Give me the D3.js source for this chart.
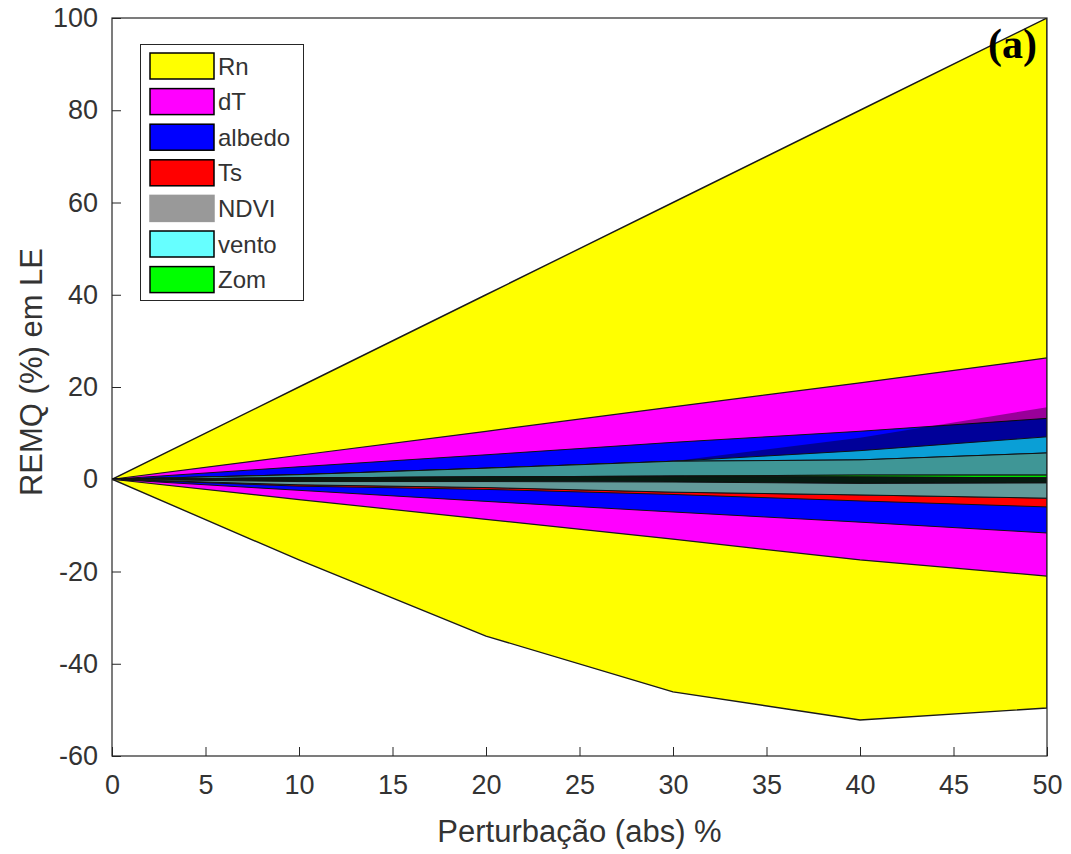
<!DOCTYPE html>
<html lang="en">
<head>
<meta charset="utf-8">
<title>REMQ LE</title>
<script src="https://d3js.org/d3.v7.min.js"></script>
<style>
  body { margin: 0; background: #fff; }
  text { font-family: "Liberation Sans", Arial, Helvetica, sans-serif; }
</style>
</head>
<body>
<script>
// perturbation levels (x)
var xs = [0, 10, 20, 30, 40, 50];

// band edges (REMQ %, one value per x)
var rnHi = [0, 20, 40, 60, 80, 100];
var rnLo = [0, -17.5, -34, -46.1, -52.2, -49.6];
var dtHi = [0, 5.2, 10.4, 15.7, 20.9, 26.3];
var dtLo = [0, -4.4, -8.7, -13.0, -17.5, -21.0];
var albHi = [0, 2.7, 5.3, 8.0, 10.4, 13.2];
var albLo = [0, -2.4, -4.8, -7.1, -9.3, -11.65];
var ndviHi = [0, 1.0, 2.4, 3.9, 9.0, 15.6];
var ventoHi = [0, 1.0, 2.4, 3.9, 6.2, 9.2];
var tealHi = [0, 1.0, 2.4, 3.9, 4.2, 5.7];
var zomHi = [0, 0.3, 0.5, 0.7, 0.9, 0.9];
var zomLo = [0, 0.3, 0.5, 0.6, 0.5, 0.3];
var coreLo = [0, -0.5, -0.5, -0.6, -0.9, -0.8];
var grayLo = [0, -1.2, -1.8, -2.8, -3.4, -4.1];
var tsLo = [0, -1.5, -2.2, -3.3, -4.7, -6.0];

var xTicks = [0, 5, 10, 15, 20, 25, 30, 35, 40, 45, 50];
var yTicks = [-60, -40, -20, 0, 20, 40, 60, 80, 100];

var legendNames = ["Rn", "dT", "albedo", "Ts", "NDVI", "vento", "Zom"];
var legendColors = ["#ffff00", "#ff00ff", "#0000ff", "#ff0000", "#999999", "#66ffff", "#00ff00"];

var width = 1071, height = 854;
var svg = d3.select("body").append("svg")
    .attr("width", width)
    .attr("height", height);

var x = d3.scaleLinear().domain([0, 50]).range([112, 1047]);
var y = d3.scaleLinear().domain([-60, 100]).range([756, 18]);

// layers in drawing order, later ones on top
var layers = [
    {hi: rnHi, lo: rnLo, fill: "#ffff00", stroke: "#1a1a1a", sw: 1.4},
    {hi: dtHi, lo: dtLo, fill: "#ff00ff", stroke: "#1a1a1a", sw: 1.2},
    {hi: albHi, lo: albLo, fill: "#0000ff", stroke: "#111"},
    {hi: grayLo, lo: tsLo, fill: "#ff0000", stroke: "#111"},
    {hi: ndviHi, lo: ventoHi, fill: "#000", opacity: 0.4, stroke: "none"},
    {hi: ventoHi, lo: tealHi, fill: "#0a9fd6", stroke: "#111"},
    {hi: tealHi, lo: zomHi, fill: "#3f9696", stroke: "#111"},
    {hi: zomHi, lo: zomLo, fill: "#00e000", stroke: "#111"},
    {hi: zomLo, lo: coreLo, fill: "#061a10", stroke: "#111"},
    {hi: coreLo, lo: grayLo, fill: "#629a9a", stroke: "#111"}
];

var area = function(l) {
    return d3.area()
        .x(function(d, i) { return x(xs[i]); })
        .y0(function(d, i) { return y(l.lo[i]); })
        .y1(function(d) { return y(d); })(l.hi);
};

svg.append("clipPath").attr("id", "plotclip")
    .append("rect").attr("x", 112).attr("y", 18).attr("width", 935).attr("height", 738);

var g = svg.append("g").attr("clip-path", "url(#plotclip)");
layers.forEach(function(l) {
    g.append("path")
        .attr("d", area(l))
        .attr("fill", l.fill)
        .attr("fill-opacity", l.opacity || 1)
        .attr("stroke", l.stroke)
        .attr("stroke-width", l.sw || 1)
        .attr("stroke-linejoin", "round");
});

// axes (MATLAB style, ticks inside)
var axisColor = "#262626";
var xAxis = svg.append("g")
    .attr("transform", "translate(0,756)")
    .call(d3.axisBottom(x).tickValues(xTicks).tickSize(-9).tickPadding(19).tickFormat(String));
var yAxis = svg.append("g")
    .attr("transform", "translate(112,0)")
    .call(d3.axisLeft(y).tickValues(yTicks).tickSize(-9).tickPadding(14).tickFormat(String));

[xAxis, yAxis].forEach(function(a) {
    a.select(".domain").remove();
    a.selectAll(".tick line").attr("stroke", axisColor);
    a.selectAll(".tick text")
        .attr("fill", "#333")
        .style("font-size", "27px");
});

// box
svg.append("rect")
    .attr("x", 112).attr("y", 18)
    .attr("width", 935).attr("height", 738)
    .attr("fill", "none")
    .attr("stroke", axisColor)
    .attr("stroke-width", 1.2);

svg.append("text")
    .attr("x", 579.5).attr("y", 842)
    .attr("text-anchor", "middle")
    .attr("fill", "#333")
    .style("font-size", "31px")
    .text("Perturbação (abs) %");

svg.append("text")
    .attr("transform", "translate(42,372) rotate(-90)")
    .attr("text-anchor", "middle")
    .attr("fill", "#333")
    .style("font-size", "31px")
    .text("REMQ (%) em LE");

// legend
var leg = svg.append("g");
leg.append("rect")
    .attr("x", 140.5).attr("y", 44.5)
    .attr("width", 163).attr("height", 256)
    .attr("fill", "#fff")
    .attr("stroke", axisColor)
    .attr("stroke-width", 1);

legendNames.forEach(function(name, i) {
    var cy = 66 + i * 35.6;
    leg.append("rect")
        .attr("x", 150).attr("y", cy - 13)
        .attr("width", 64).attr("height", 26)
        .attr("fill", legendColors[i])
        .attr("stroke", name === "NDVI" ? "#999" : "#000")
        .attr("stroke-width", 1.5);
    leg.append("text")
        .attr("x", 218).attr("y", cy + 8.5)
        .attr("fill", "#333")
        .style("font-size", "24px")
        .text(name);
});

svg.append("text")
    .attr("x", 1037).attr("y", 58)
    .attr("text-anchor", "end")
    .style("font-family", "'Liberation Serif', 'Times New Roman', serif")
    .style("font-weight", "bold")
    .style("font-size", "42px")
    .attr("fill", "#000")
    .text("(a)");
</script>
</body>
</html>
